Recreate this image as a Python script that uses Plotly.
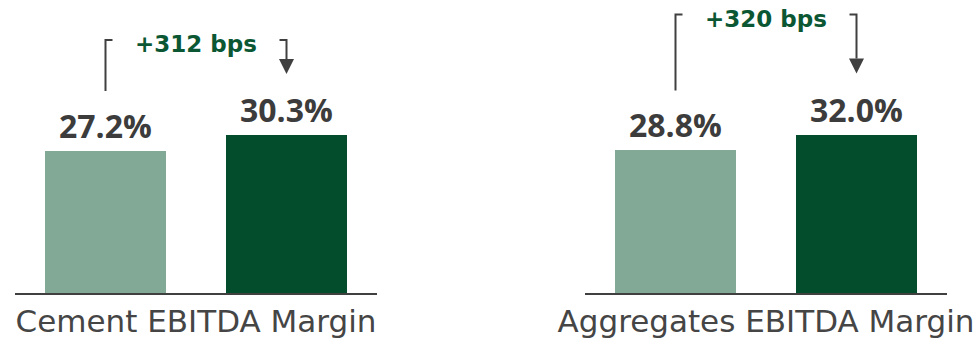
import plotly.graph_objects as go

# ---- data ----
categories = ["Cement EBITDA Margin", "Aggregates EBITDA Margin"]
period_index = [0, 1]
cement_values = [27.2, 30.3]
aggregates_values = [28.8, 32.0]
change_labels = ["+312 bps", "+320 bps"]

series = [cement_values, aggregates_values]

# ---- styles ----
W, H = 976, 344
LIGHT = "#82A896"
DARK = "#034D2C"
TEXT_DARK = "#3C3C3C"
GREEN_TEXT = "#0B5733"
LINE = "#404040"
x_domains = [(15, 377), (585, 947)]
y_ranges = [56.15, 59.2]
plot_h = 293
bracket_top_px = [95, 120]

fig = go.Figure()
shapes = []
annotations = []

for k, vals in enumerate(series):
    xa = "x" if k == 0 else "x2"
    ya = "y" if k == 0 else "y2"
    fig.add_trace(go.Bar(
        x=period_index, y=vals, width=0.668,
        marker=dict(color=[LIGHT, DARK], line=dict(width=0)),
        xaxis=xa, yaxis=ya, showlegend=False, hoverinfo="skip",
    ))
    R = y_ranges[k]
    du = R / plot_h            # data units per pixel
    dx = 2 / (x_domains[k][1] - x_domains[k][0])  # x units per pixel
    v0, v1 = vals
    for i, v in enumerate(vals):
        annotations.append(dict(
            x=period_index[i], y=v, xref=xa, yref=ya, text=f"{v:.1f}%",
            showarrow=False, yanchor="bottom", yshift=2,
            font=dict(family="Open Sans", size=32, color=TEXT_DARK, weight=700),
        ))
    y_bot = v0 + 60 * du
    y_top = v1 + bracket_top_px[k] * du
    tip = v1 + 61 * du
    head = v1 + 76 * du
    hook = 7 * dx
    hw = 7.5 * dx
    shapes.append(dict(type="path", xref=xa, yref=ya,
                       path=f"M 0,{y_bot} L 0,{y_top} L {hook},{y_top}",
                       line=dict(color=LINE, width=2)))
    shapes.append(dict(type="path", xref=xa, yref=ya,
                       path=f"M {1-hook},{y_top} L 1,{y_top} L 1,{head}",
                       line=dict(color=LINE, width=2)))
    shapes.append(dict(type="path", xref=xa, yref=ya,
                       path=f"M {1-hw},{head} L {1+hw},{head} L 1,{tip} Z",
                       fillcolor=LINE, line=dict(color=LINE, width=0)))
    annotations.append(dict(
        x=0.5, y=y_top - 4 * du, xref=xa, yref=ya, text=change_labels[k],
        showarrow=False, yanchor="middle",
        font=dict(family="DejaVu Sans", size=23, color=GREEN_TEXT, weight=700),
    ))

def xaxis_cfg(k):
    return dict(
        domain=[x_domains[k][0] / W, x_domains[k][1] / W],
        range=[-0.5, 1.5], showline=True, linecolor=LINE, linewidth=2,
        tickvals=[0.5], ticktext=[categories[k]], ticks="",
        tickfont=dict(family="DejaVu Sans", size=31, color="#454545"),
        showgrid=False, zeroline=False, fixedrange=True, automargin=False,
    )

def yaxis_cfg(k):
    return dict(domain=[(H - plot_h) / H, 1], range=[0, y_ranges[k]],
                visible=False, fixedrange=True, automargin=False)

fig.update_layout(
    width=W, height=H, margin=dict(l=0, r=0, t=0, b=0, autoexpand=False),
    paper_bgcolor="white", plot_bgcolor="white",
    xaxis=xaxis_cfg(0), yaxis=yaxis_cfg(0),
    xaxis2={**xaxis_cfg(1), "anchor": "y2"}, yaxis2={**yaxis_cfg(1), "anchor": "x2"},
    shapes=shapes, annotations=annotations, bargap=0,
)

fig.write_html("out.html", config={"displayModeBar": False})
